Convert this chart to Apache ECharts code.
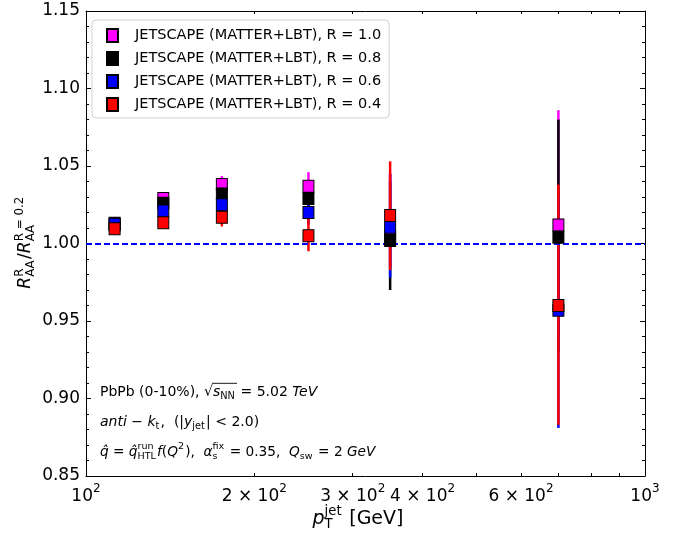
<!DOCTYPE html>
<html>
<head>
<meta charset="utf-8">
<script src="https://cdn.jsdelivr.net/npm/echarts@6/dist/echarts.min.js"></script>
<style>html,body{margin:0;padding:0;background:#fff}#c{width:688px;height:538px}</style>
</head>
<body>
<div id="c"></div>
<script>
// ---------- data ----------
const ptCenters = [112.5, 137.5, 175, 250, 350, 700];
const seriesNames = ['JETSCAPE (MATTER+LBT), R = 1.0','JETSCAPE (MATTER+LBT), R = 0.8','JETSCAPE (MATTER+LBT), R = 0.6','JETSCAPE (MATTER+LBT), R = 0.4'];
const seriesColors = ['#ff00ff', '#000000', '#0000ff', '#ff0000'];
const r10 = [1.012, 1.029, 1.038, 1.037, 1.004, 1.012];
const r10Lo = [1.010, 1.027, 1.034, 1.030, 0.985, 0.940];
const r10Hi = [1.014, 1.031, 1.0435, 1.046, 1.045, 1.086];
const r08 = [1.013, 1.026, 1.032, 1.029, 1.002, 1.004];
const r08Lo = [1.011, 1.024, 1.028, 1.022, 0.970, 0.930];
const r08Hi = [1.015, 1.028, 1.036, 1.036, 1.040, 1.080];
const r06 = [1.0125, 1.021, 1.025, 1.020, 1.0105, 0.957];
const r06Lo = [1.0105, 1.019, 1.020, 1.012, 0.978, 0.881];
const r06Hi = [1.0145, 1.023, 1.030, 1.028, 1.045, 1.030];
const r04 = [1.0095, 1.0134, 1.017, 1.005, 1.018, 0.960];
const r04Lo = [1.0075, 1.0114, 1.011, 0.995, 0.983, 0.883];
const r04Hi = [1.0115, 1.0154, 1.023, 1.016, 1.053, 1.038];
const yTicks = [0.85, 0.90, 0.95, 1.00, 1.05, 1.10, 1.15];
const xLabelValues = [100, 200, 300, 400, 600, 1000];
const xLabelTexts = {100: ['10', '2'], 200: ['2 × 10', '2'], 300: ['3 × 10', '2'], 400: ['4 × 10', '2'], 600: ['6 × 10', '2'], 1000: ['10', '3']};
const xMinorTicks = [200, 300, 400, 500, 600, 700, 800, 900];
const refLine = 1.0;

const vals = [r10, r08, r06, r04];
const los = [r10Lo, r08Lo, r06Lo, r04Lo];
const his = [r10Hi, r08Hi, r06Hi, r04Hi];

// ---------- math text helper ----------
const FONT = '"DejaVu Sans"';
const cv = document.createElement('canvas').getContext('2d');
function tw(t, size, it) { cv.font = (it ? 'italic ' : '') + size + 'px ' + FONT; return cv.measureText(t).width; }
function txt(t, x, y, size, it) {
  return {type: 'text', style: {text: t, x: x, y: y, fontSize: size, fontStyle: it ? 'italic' : 'normal', fontFamily: FONT, fill: '#000', verticalAlign: 'middle', align: 'left'}};
}
function math(segs, size) {
  const els = []; let x = 0; const small = size * 0.7;
  for (const s of segs) {
    const x0 = x;
    if (s.t) { els.push(txt(s.t, x, 0, size, s.i)); x += tw(s.t, size, s.i); }
    if (s.sup || s.sub) {
      let w = 0;
      if (s.sup) { w = Math.max(w, tw(s.sup, small, s.supI)); els.push(txt(s.sup, x + (s.supDx || 0), -size * 0.38, small, s.supI)); }
      if (s.sub) { w = Math.max(w, tw(s.sub, small, s.subI)); els.push(txt(s.sub, x, size * 0.3, small, s.subI)); }
      x += w + size * 0.08;
    }
    if (s.ov) { els.push({type: 'line', shape: {x1: x0 - 1, y1: -size * 0.62, x2: x + 1, y2: -size * 0.62}, style: {stroke: '#000', lineWidth: 0.9}}); }
  }
  return {els, w: x};
}
function mathGroup(segs, size, x, y, opts) {
  const m = math(segs, size);
  opts = opts || {};
  if (opts.rotate) {
    return {type: 'group', x: x, y: y + m.w / 2, rotation: Math.PI / 2, children: m.els};
  }
  const dx = opts.center ? -m.w / 2 : 0;
  return {type: 'group', x: x + dx, y: y, children: m.els};
}

const annSize = 14;
const graphics = [
  mathGroup([{t: 'PbPb (0-10%), '}, {t: '√'}, {t: 's', i: true, sub: 'NN', ov: true}, {t: ' = 5.02 '}, {t: 'TeV', i: true}], annSize, 100, 392),
  mathGroup([{t: 'anti', i: true}, {t: ' − '}, {t: 'k', i: true, sub: 't'}, {t: ',  (|'}, {t: 'y', i: true, sub: 'jet'}, {t: '| < 2.0)'}], annSize, 100, 422),
  mathGroup([{t: 'q\u0302', i: true}, {t: ' = '}, {t: 'q\u0302', i: true, sup: 'run', sub: 'HTL'}, {t: 'f', i: true}, {t: '('}, {t: 'Q', i: true, sup: '2'}, {t: '),  '}, {t: 'α', i: true, sup: 'fix', sub: 's'}, {t: ' = 0.35,  '}, {t: 'Q', i: true, sub: 'sw'}, {t: ' = 2 '}, {t: 'GeV', i: true}], 13.7, 100, 452),
  mathGroup([{t: 'p', i: true, sup: 'jet', sub: 'T'}, {t: ' [GeV]'}], 19, 358, 519, {center: true}),
  mathGroup([{t: 'R', i: true, sup: 'R', sub: 'AA'}, {t: '/'}, {t: 'R', i: true, sup: 'R = 0.2', sub: 'AA'}], 17, 26, 242, {rotate: true})
];

// ---------- series ----------
const series = [];
for (let k = 0; k < 4; k++) {
  series.push({
    name: 'err' + k, type: 'custom', z: 2 + k * 0.1, silent: true, xAxisIndex: 0, yAxisIndex: 0,
    data: ptCenters.map((x, i) => [x, los[k][i], his[k][i]]),
    encode: {x: 0, y: [1, 2]},
    renderItem: (function (col) {
      return function (params, api) {
        const a = api.coord([api.value(0), api.value(1)]);
        const b = api.coord([api.value(0), api.value(2)]);
        return {type: 'line', shape: {x1: a[0], y1: a[1], x2: b[0], y2: b[1]}, style: {stroke: col, lineWidth: 2.5}};
      };
    })(seriesColors[k])
  });
}
for (let k = 0; k < 4; k++) {
  const s = {
    name: seriesNames[k], type: 'scatter', z: 5 + k * 0.1, xAxisIndex: 0, yAxisIndex: 0,
    symbol: 'rect', symbolSize: [11, 12],
    itemStyle: {color: seriesColors[k], borderColor: '#000', borderWidth: 1, opacity: 1},
    data: ptCenters.map((x, i) => [x, vals[k][i]])
  };
  if (k === 0) {
    s.markLine = {silent: true, symbol: 'none', label: {show: false}, z: 3,
      lineStyle: {color: '#0000ff', width: 2, type: [6, 3]}, data: [{yAxis: refLine}]};
  }
  series.push(s);
}

const axLine = {show: true, onZero: false, lineStyle: {color: '#000', width: 1}};
const richX = {
  a: {fontSize: 17, fontFamily: FONT, color: '#000', verticalAlign: 'bottom', lineHeight: 22},
  s: {fontSize: 12, fontFamily: FONT, color: '#000', verticalAlign: 'top', lineHeight: 22}
};
function xAx(pos, withLabels, ticks, len) {
  return {
    type: 'log', logBase: 10, min: 100, max: 1000, position: pos, gridIndex: 0,
    axisLine: withLabels === null ? {show: false} : axLine,
    splitLine: {show: false},
    axisTick: {show: true, inside: true, length: len, customValues: ticks, lineStyle: {color: '#000', width: 1}},
    axisLabel: withLabels ? {
      show: true, margin: 7, customValues: xLabelValues,
      formatter: v => { const p = xLabelTexts[Math.round(v)]; return p ? '{a|' + p[0] + '}{s|' + p[1] + '}' : ''; },
      rich: richX
    } : {show: false}
  };
}
function yAx(pos, withLabels) {
  return {
    type: 'value', min: 0.85, max: 1.15, interval: 0.05, position: pos,
    axisLine: axLine, splitLine: {show: false},
    axisTick: {show: true, inside: true, length: 5, lineStyle: {color: '#000'}},
    minorTick: {show: true, splitNumber: 5, length: 3, lineStyle: {color: '#000'}},
    axisLabel: withLabels ? {show: true, margin: 6, fontSize: 17, fontFamily: FONT, color: '#000', formatter: v => v.toFixed(2)} : {show: false}
  };
}

const chart = echarts.init(document.getElementById('c'), null, {renderer: 'canvas'});
chart.setOption({
  animation: false,
  backgroundColor: '#fff',
  grid: {left: 86, right: 43, top: 11, bottom: 62, containLabel: false},
  xAxis: [xAx('bottom', true, [100, 1000], 5), xAx('bottom', null, xMinorTicks, 3), xAx('top', false, [100, 1000], 5), xAx('top', null, xMinorTicks, 3)],
  yAxis: [yAx('left', true), yAx('right', false)],
  legend: {
    orient: 'vertical', left: 92, top: 20, padding: [8, 8, 6, 14],
    backgroundColor: '#fff', borderColor: '#d0d0d0', borderWidth: 1, borderRadius: 4,
    itemWidth: 11, itemHeight: 13, itemGap: 8, icon: 'rect',
    textStyle: {fontSize: 14.5, fontFamily: FONT, color: '#000', padding: [0, 0, 0, 12]},
    data: seriesNames
  },
  series: series,
  graphic: graphics
});
</script>
</body>
</html>
